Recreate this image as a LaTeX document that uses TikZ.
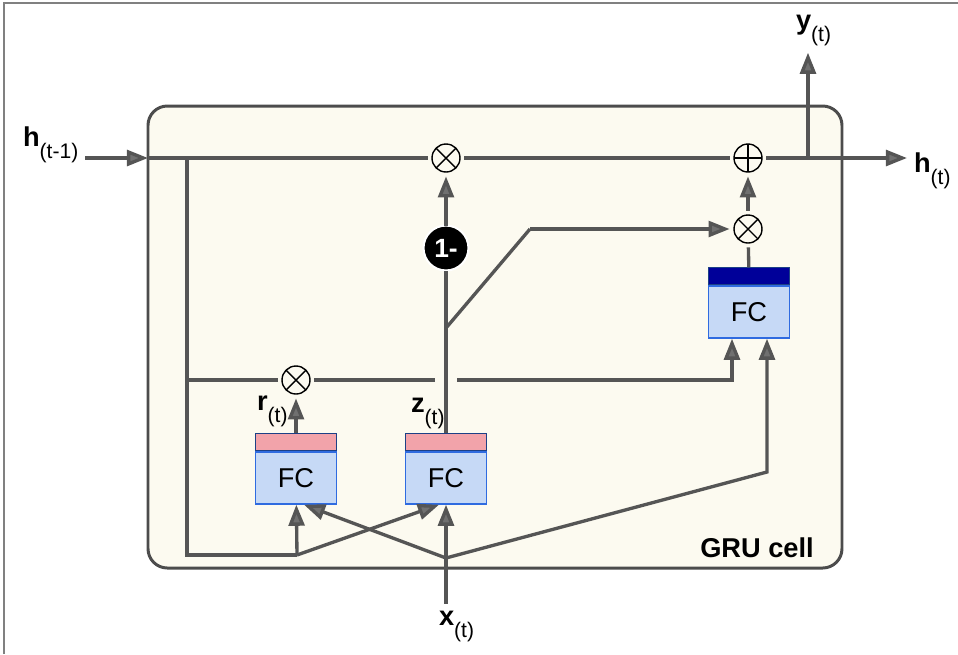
\documentclass[tikz,border=0pt]{standalone}
\usepackage{fontspec}
\setmainfont{Liberation Sans}
\usepackage{tikz}
\usetikzlibrary{arrows.meta,positioning,calc}
\definecolor{cellfill}{HTML}{FCFAF0}
\definecolor{linegray}{HTML}{555555}
\definecolor{tipgray}{HTML}{707070}
\definecolor{fcblue}{HTML}{C6D9F6}
\definecolor{fcborder}{HTML}{2F6BE0}
\definecolor{pinkbar}{HTML}{F2A3AA}
\definecolor{darkbar}{HTML}{000099}
\newcommand{\sublab}[2]{{\fontsize{15.5}{17}\selectfont\bfseries #1}\raisebox{-7pt}{\fontsize{12}{14}\selectfont #2}}
\tikzset{
  line/.style={draw=linegray,line width=1.9pt},
  arr/.style={line,-{Triangle[length=12pt,width=9pt,fill=tipgray]}},
  fcbox/.style={draw=fcborder,line width=0.8pt,fill=fcblue,minimum width=1.62cm,
                minimum height=1.04cm,inner sep=0pt,font=\fontsize{15.5}{17}\selectfont},
  fcbar/.style={draw=fcborder!60!black,line width=0.6pt,minimum width=1.62cm,
                minimum height=0.34cm,inner sep=0pt},
  opcirc/.style={circle,draw=black,line width=0.8pt,fill=cellfill,minimum size=0.56cm,
                 inner sep=0pt,outer sep=2.5pt},
  mul/.style={opcirc,path picture={
      \draw[line width=0.8pt] (path picture bounding box.north west)--(path picture bounding box.south east)
            (path picture bounding box.north east)--(path picture bounding box.south west);}},
  add/.style={opcirc,path picture={
      \draw[line width=0.8pt] (path picture bounding box.north)--(path picture bounding box.south)
            (path picture bounding box.east)--(path picture bounding box.west);}},
}

\begin{document}
\begin{tikzpicture}[
  x=0.02cm,y=-0.02cm,
  lbl/.style={inner sep=1pt,outer sep=3pt},
  onemin/.style={circle,fill=black,draw=white,line width=1.2pt,minimum size=0.9cm,inner sep=0pt,
                 text=white,font=\fontsize{15}{17}\selectfont\bfseries,outer sep=0pt},
]
  \useasboundingbox (0,0) rectangle (958,654);
  %% ── Frame and cell ──────────────────────────────────────────────────────
  \draw[gray,line width=0.8pt] (4,654) -- (4,3) -- (958,3);
  \draw[draw=black!70,line width=1.7pt,fill=cellfill,rounded corners=11pt] (148,106) rectangle (842,568);
  \node[anchor=base east,font=\fontsize{15.5}{17}\selectfont\bfseries] (cellname) at (820,557) {GRU cell};

  %% ── Labels ──────────────────────────────────────────────────────────────
  \node[lbl,anchor=base west] (hprev) at (16,146) {\sublab{h}{(t-1)}};
  \node[lbl,anchor=base west] (hnext) at (907,172) {\sublab{h}{(t)}};
  \node[lbl,anchor=base west] (yout)  at (789,29)  {\sublab{y}{(t)}};
  \node[lbl,anchor=base west] (xin)   at (432,625) {\sublab{x}{(t)}};
  \node[lbl,anchor=base west] (rlab)  at (250,410) {\sublab{r}{(t)}};
  \node[lbl,anchor=base west] (zlab)  at (404,412) {\sublab{z}{(t)}};

  %% ── FC layers ───────────────────────────────────────────────────────────
  \node[fcbox] (fcr) at (296,478) {FC};
  \node[fcbar,fill=pinkbar,anchor=south] (fcrbar) at (fcr.north) {};
  \node[fcbox] (fcz) at (446,478) {FC};
  \node[fcbar,fill=pinkbar,anchor=south] (fczbar) at (fcz.north) {};
  \node[fcbox] (fch) at (749,312) {FC};
  \node[fcbar,fill=darkbar,anchor=south] (fchbar) at (fch.north) {};

  %% ── Operators ───────────────────────────────────────────────────────────
  \node[mul] (mulh) at (446,158) {};
  \node[add] (addh) at (748,158) {};
  \node[mul] (mulz) at (748,229) {};
  \node[mul] (mulr) at (296,380) {};
  \node[onemin] (onem) at (446,248) {1-};

  %% ── Joints ──────────────────────────────────────────────────────────────
  \coordinate (cin)    at (148,158);
  \coordinate (hsplit) at (187,158);
  \coordinate (rsplit) at (187,380);
  \coordinate (hbot)   at (297,555);
  \coordinate (xsplit) at (446,558);
  \coordinate (xturn)  at (767,472);
  \coordinate (zsplit) at (446,328);
  \coordinate (zbend)  at (530,229);
  \coordinate (ysplit) at (808,158);
  \coordinate (gapl)   at (435,380);
  \coordinate (gapr)   at (457,380);

  %% ── State path ──────────────────────────────────────────────────────────
  \draw[arr] (hprev.east |- cin) -- (cin);
  \draw[line] (cin) -- (mulh);
  \draw[line] (mulh) -- (addh);
  \draw[arr] (addh) -- (addh -| hnext.west);
  \draw[arr] (ysplit) -- (ysplit |- yout.south);
  \draw[line] (hsplit) |- (hbot);
  \draw[arr] (hbot) -- (fcr);
  \draw[arr] (hbot) -- ($(fcz.south)+(-7,0)$);

  %% ── Input x ─────────────────────────────────────────────────────────────
  \draw[line] (xin.north -| xsplit) -- (xsplit);
  \draw[arr] (xsplit) -- (fcz);
  \draw[arr] (xsplit) -- ($(fcr.south)+(8,0)$);
  \draw[arr] (xsplit) -- (xturn) -- (xturn |- fch.south);

  %% ── Reset gate ──────────────────────────────────────────────────────────
  \draw[line] (rsplit) -- (mulr);
  \draw[arr] (fcrbar) -- (mulr);
  \draw[line] (mulr) -- (gapl);
  \draw[arr] (gapr) -| ($(fch.south)+(-17,0)$);

  %% ── Update gate ─────────────────────────────────────────────────────────
  \draw[line] (fczbar) -- (onem);
  \draw[arr] (onem) -- (mulh);
  \draw[line] (zsplit) -- (zbend);
  \draw[arr] (zbend) -- (mulz);
  \draw[line] (fchbar) -- (mulz);
  \draw[arr] (mulz) -- (addh);
\end{tikzpicture}
\end{document}
